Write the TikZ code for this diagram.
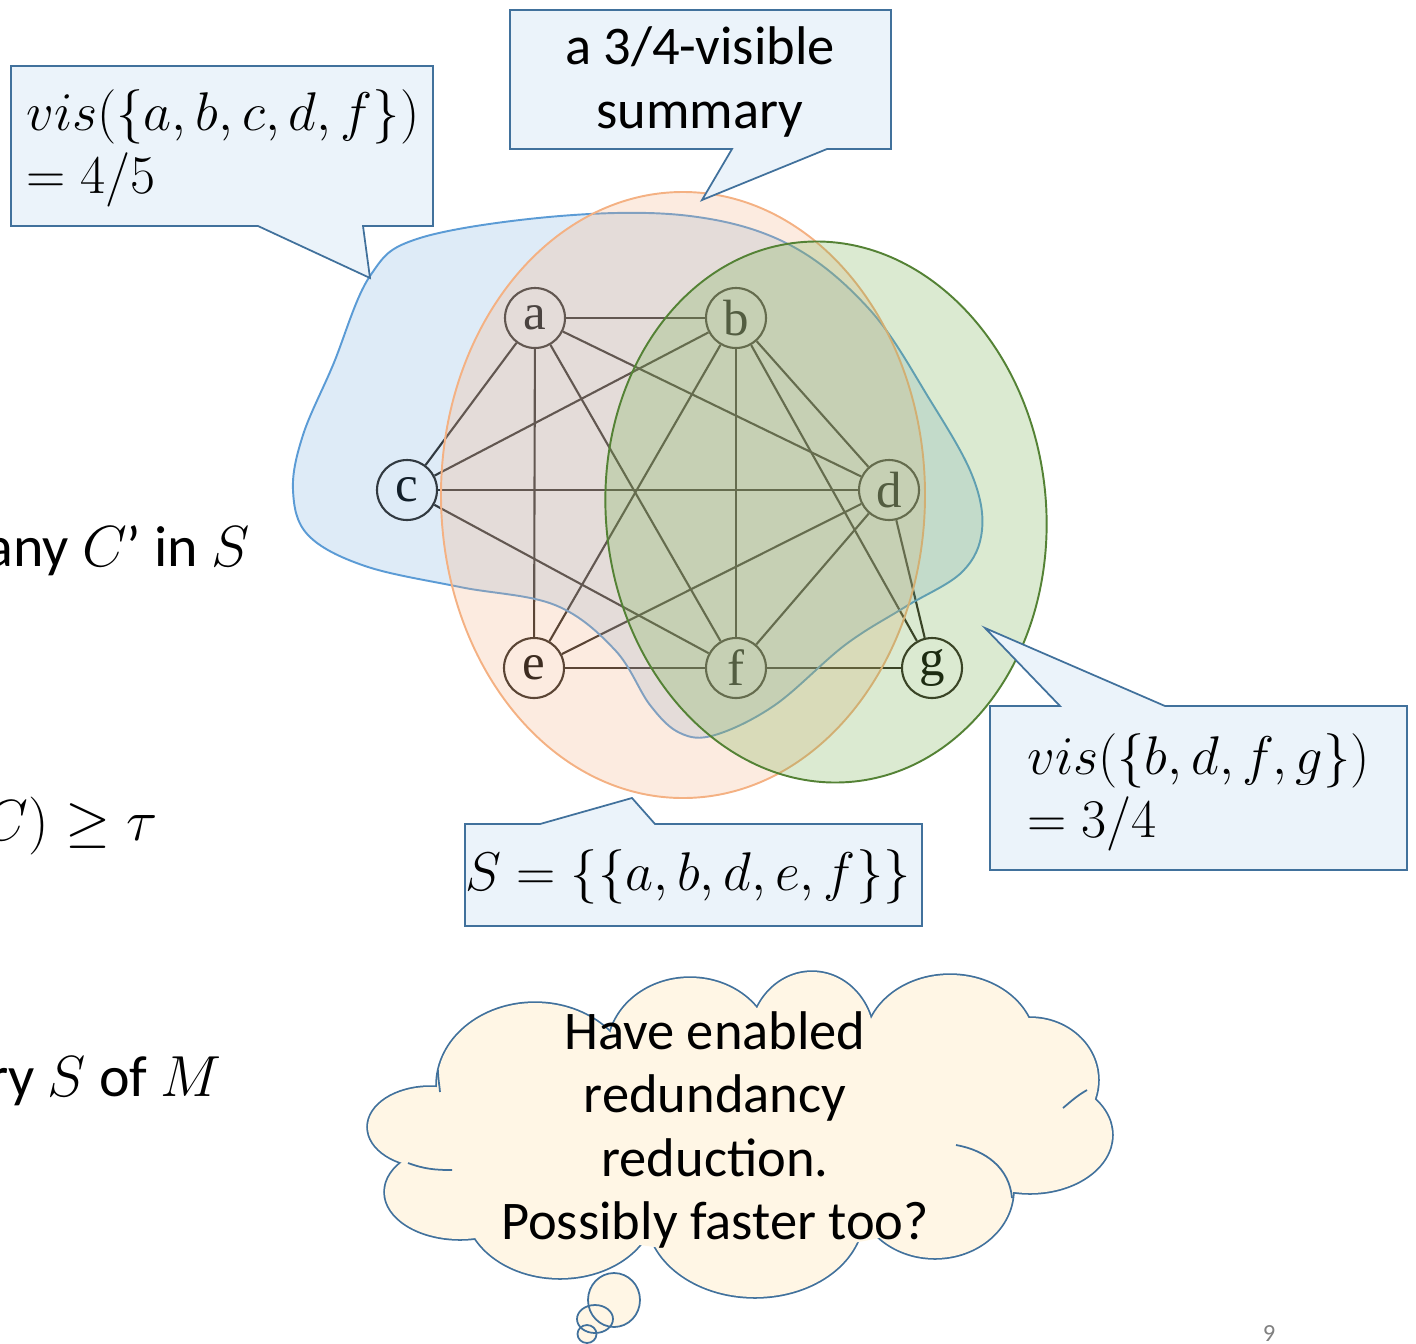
\RequirePackage{fix-cm}
\documentclass[tikz,border=0pt]{standalone}
\usepackage{fontspec}
\setmainfont{Carlito}
\newfontfamily\vertexfont{Liberation Serif}
\usetikzlibrary{positioning}

\definecolor{calloutfill}{RGB}{235,243,250}
\definecolor{calloutdraw}{RGB}{65,113,156}
\definecolor{blueset}{RGB}{91,155,213}
\definecolor{orangeset}{RGB}{244,177,131}
\definecolor{greenline}{RGB}{84,130,53}
\definecolor{greenset}{RGB}{112,173,71}
\definecolor{cloudfill}{RGB}{255,246,229}
\definecolor{edgegray}{RGB}{40,34,28}

\tikzset{
  vertex/.style={circle,draw=edgegray,line width=1.2pt,minimum size=1.2cm,inner sep=0pt,
    font=\vertexfont\fontsize{29}{30}\selectfont},
  edge/.style={draw=edgegray,line width=1.2pt},
  callout/.style={fill=calloutfill,draw=calloutdraw,line width=1pt,line join=miter},
  cloudline/.style={draw=calloutdraw,line width=1pt},
  bigtext/.style={font=\fontsize{31}{36}\selectfont,inner sep=0pt},
  slidetext/.style={font=\fontsize{33}{40}\selectfont,inner sep=0pt,anchor=east},
}

\begin{document}
\begin{tikzpicture}[x=0.02cm,y=-0.02cm]

\useasboundingbox (0,0) rectangle (1416,1343);
\clip (0,0) rectangle (1416,1343);

% left hand slide text, cut off by the edge
\node[slidetext] (l1) at (250,551) {any $C$’ in $S$};
\node[slidetext] (l2) at (158,826) {$vis(C)\geq\tau$};
\node[slidetext] (l3) at (222,1081) {summary $S$ of $M$};

% the graph
\node[vertex] (a) at (535,318) {a};
\node[vertex] (b) at (736,318) {b};
\node[vertex] (c) at (407,490) {c};
\node[vertex] (d) at (889,490) {d};
\node[vertex] (e) at (534,668) {e};
\node[vertex] (f) at (736,668) {f};
\node[vertex] (g) at (932,668) {g};

\foreach \u/\v in {a/b,a/c,a/d,a/e,a/f,b/c,b/d,b/e,b/f,b/g,c/d,c/f,d/e,d/f,d/g,e/f,f/g}
  \path[edge] (\u) -- (\v);

% the three sets
\filldraw[draw=blueset,line width=1.1pt,fill=blueset,fill opacity=0.2]
  plot[smooth cycle,tension=0.6] coordinates {(370,276) (420,238) (560,216) (690,216)
  (790,245) (870,310) (930,400) (972,475) (982,530) (962,572) (905,607) (845,645)
  (775,705) (715,735) (680,733) (650,705) (615,650) (555,605) (460,587) (365,566)
  (308,535) (293,490) (303,435) (333,365)};
\filldraw[draw=orangeset,line width=1.1pt,fill=orangeset,fill opacity=0.25]
  (683,495) ellipse [x radius=242, y radius=303];
\filldraw[draw=greenline,line width=1.1pt,fill=greenset,fill opacity=0.25,
  rotate around={6:(826,512)}] (826,512) ellipse [x radius=220, y radius=271];

% callouts
\draw[callout] (11,66) -- (433,66) -- (433,226) -- (363,226) -- (370,278) -- (258,226)
  -- (11,226) -- cycle;
\node[bigtext,anchor=west,align=left] (visall) at (26,148)
  {$vis(\{a,b,c,d,f\})$\\$=4/5$};

\draw[callout] (510,10) -- (891,10) -- (891,149) -- (827,149) -- (702,200) -- (732,149)
  -- (510,149) -- cycle;
\node[bigtext,align=center] (summ) at (700,82) {a 3/4-visible\\summary};

\draw[callout] (990,706) -- (1060,706) -- (985,628) -- (1165,706) -- (1407,706)
  -- (1407,870) -- (990,870) -- cycle;
\node[bigtext,anchor=west,align=left] (visbdfg) at (1027,792)
  {$vis(\{b,d,f,g\})$\\$=3/4$};

\draw[callout] (465,824) -- (540,824) -- (632,798) -- (655,824) -- (922,824)
  -- (922,926) -- (465,926) -- cycle;
\node[bigtext] (sset) at (688,877) {$S=\{\{a,b,d,e,f\}\}$};

% thought cloud, drawn as a union of puffs
\def\puffs{535/1085/98/82, 690/1050/82/72, 812/1040/62/68, 950/1045/85/70,
  1030/1080/68/62, 1030/1135/82/58, 935/1190/78/68, 755/1215/108/82,
  560/1205/95/73, 460/1192/75/47, 430/1127/62/40}
\foreach \cx/\cy/\rx/\ry in \puffs
  \draw[cloudline,line width=2pt] (\cx,\cy) ellipse [x radius=\rx, y radius=\ry];
\foreach \cx/\cy/\rx/\ry in \puffs
  \fill[cloudfill] (\cx,\cy) ellipse [x radius=\rx, y radius=\ry];
\fill[cloudfill] (740,1137) ellipse [x radius=290, y radius=115];
\draw[cloudline] (956,1145) to[out=-10,in=95] (1012,1198);
\draw[cloudline] (408,1163) to[out=-20,in=180] (452,1170);
\draw[cloudline] (1087,1090) to[out=-150,in=40] (1063,1108);
\draw[cloudline] (440,1092) to[out=95,in=-90] (438,1070);

\fill[cloudfill] (614,1300) ellipse [x radius=26, y radius=27];
\fill[cloudfill] (595,1319) ellipse [x radius=18, y radius=14];
\fill[cloudfill] (587,1334) ellipse [x radius=9.5, y radius=9];
\draw[cloudline] (614,1300) ellipse [x radius=26, y radius=27];
\draw[cloudline] (595,1319) ellipse [x radius=18, y radius=14];
\draw[cloudline] (587,1334) ellipse [x radius=9.5, y radius=9];

\node[bigtext,align=center] (idea) at (715,1130)
  {Have enabled\\redundancy\\reduction.\\Possibly faster too?};

\node[font=\fontsize{14}{16}\selectfont,text=gray] (pageno) at (1269,1333) {9};

\end{tikzpicture}
\end{document}
